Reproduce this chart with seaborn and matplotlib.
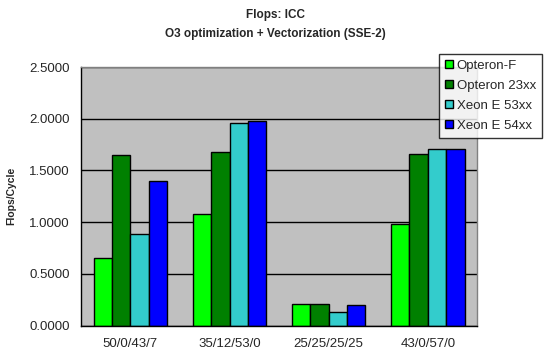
import pandas as pd
import numpy as np
import matplotlib
matplotlib.use("Agg")
import matplotlib.pyplot as plt
import seaborn as sns
from matplotlib.ticker import FixedLocator, FormatStrFormatter

# data
mixes = ["50/0/43/7", "35/12/53/0", "25/25/25/25", "43/0/57/0"]
cpus = ["Opteron-F", "Opteron 23xx", "Xeon E 53xx", "Xeon E 54xx"]
opteron_f = [0.65, 1.08, 0.205, 0.98]
opteron_23 = [1.65, 1.68, 0.205, 1.66]
xeon_53 = [0.89, 1.96, 0.13, 1.71]
xeon_54 = [1.40, 1.98, 0.20, 1.71]
colors = ["#00FF00", "#008000", "#33CCCC", "#0000FF"]

df = pd.DataFrame({
    "mix": mixes * 4,
    "cpu": np.repeat(cpus, len(mixes)),
    "flops": opteron_f + opteron_23 + xeon_53 + xeon_54,
})

sns.set_style("white")
plt.rcParams["font.family"] = ["Liberation Sans", "DejaVu Sans"]

fig = plt.figure(figsize=(5.5, 3.55), dpi=100)
ax = fig.add_axes([0.147, 0.083, 0.721, 0.728])
ax.set_facecolor("#C0C0C0")

sns.barplot(data=df, x="mix", y="flops", hue="cpu", palette=colors,
            width=0.74, gap=0, edgecolor="black", linewidth=1,
            saturation=1, ax=ax, legend=True)

ax.set_ylim(0, 2.5)
ax.set_xlim(-0.5, 3.5)
ax.yaxis.set_major_locator(FixedLocator([0, 0.5, 1.0, 1.5, 2.0, 2.5]))
ax.yaxis.set_major_formatter(FormatStrFormatter("%.4f"))
ax.grid(axis="y", color="black", linewidth=1)
ax.set_axisbelow(True)

# ticks at category boundaries, labels at centers
ax.set_xticks([-0.5, 0.5, 1.5, 2.5, 3.5])
ax.set_xticklabels([])
ax.set_xticks(range(4), minor=True)
ax.set_xticklabels(mixes, minor=True, fontsize=9.5)
ax.tick_params(axis="x", which="minor", length=0, pad=9)
ax.tick_params(axis="x", which="major", length=5, width=1, color="black", direction="out")
ax.tick_params(axis="y", length=5, width=1, color="black", direction="out", labelsize=9.5, pad=3)

ax.set_xlabel("")
ax.set_ylabel("Flops/Cycle", fontsize=7.5, fontweight="bold", labelpad=9)

for s in ["left", "bottom"]:
    ax.spines[s].set_color("black")
    ax.spines[s].set_linewidth(1)
for s in ["top", "right"]:
    ax.spines[s].set_color("#808080")
    ax.spines[s].set_linewidth(1)

fig.text(0.5, 0.957, "Flops: ICC", ha="center", va="center", fontsize=8.5, fontweight="bold")
fig.text(0.5, 0.905, "O3 optimization + Vectorization (SSE-2)", ha="center", va="center",
         fontsize=8.5, fontweight="bold")

handles, labels = ax.get_legend_handles_labels()
ax.get_legend().remove()
leg = fig.legend(handles, labels, loc="upper left", bbox_to_anchor=(439 / 550, 1 - 54 / 355),
                 frameon=True, fancybox=False, edgecolor="black", fontsize=9.5,
                 handlelength=0.6, handleheight=0.6, handletextpad=0.3,
                 labelspacing=0.6, borderpad=0.45, borderaxespad=0)
leg.get_frame().set_linewidth(1)

fig.savefig("out.png", dpi=100)
